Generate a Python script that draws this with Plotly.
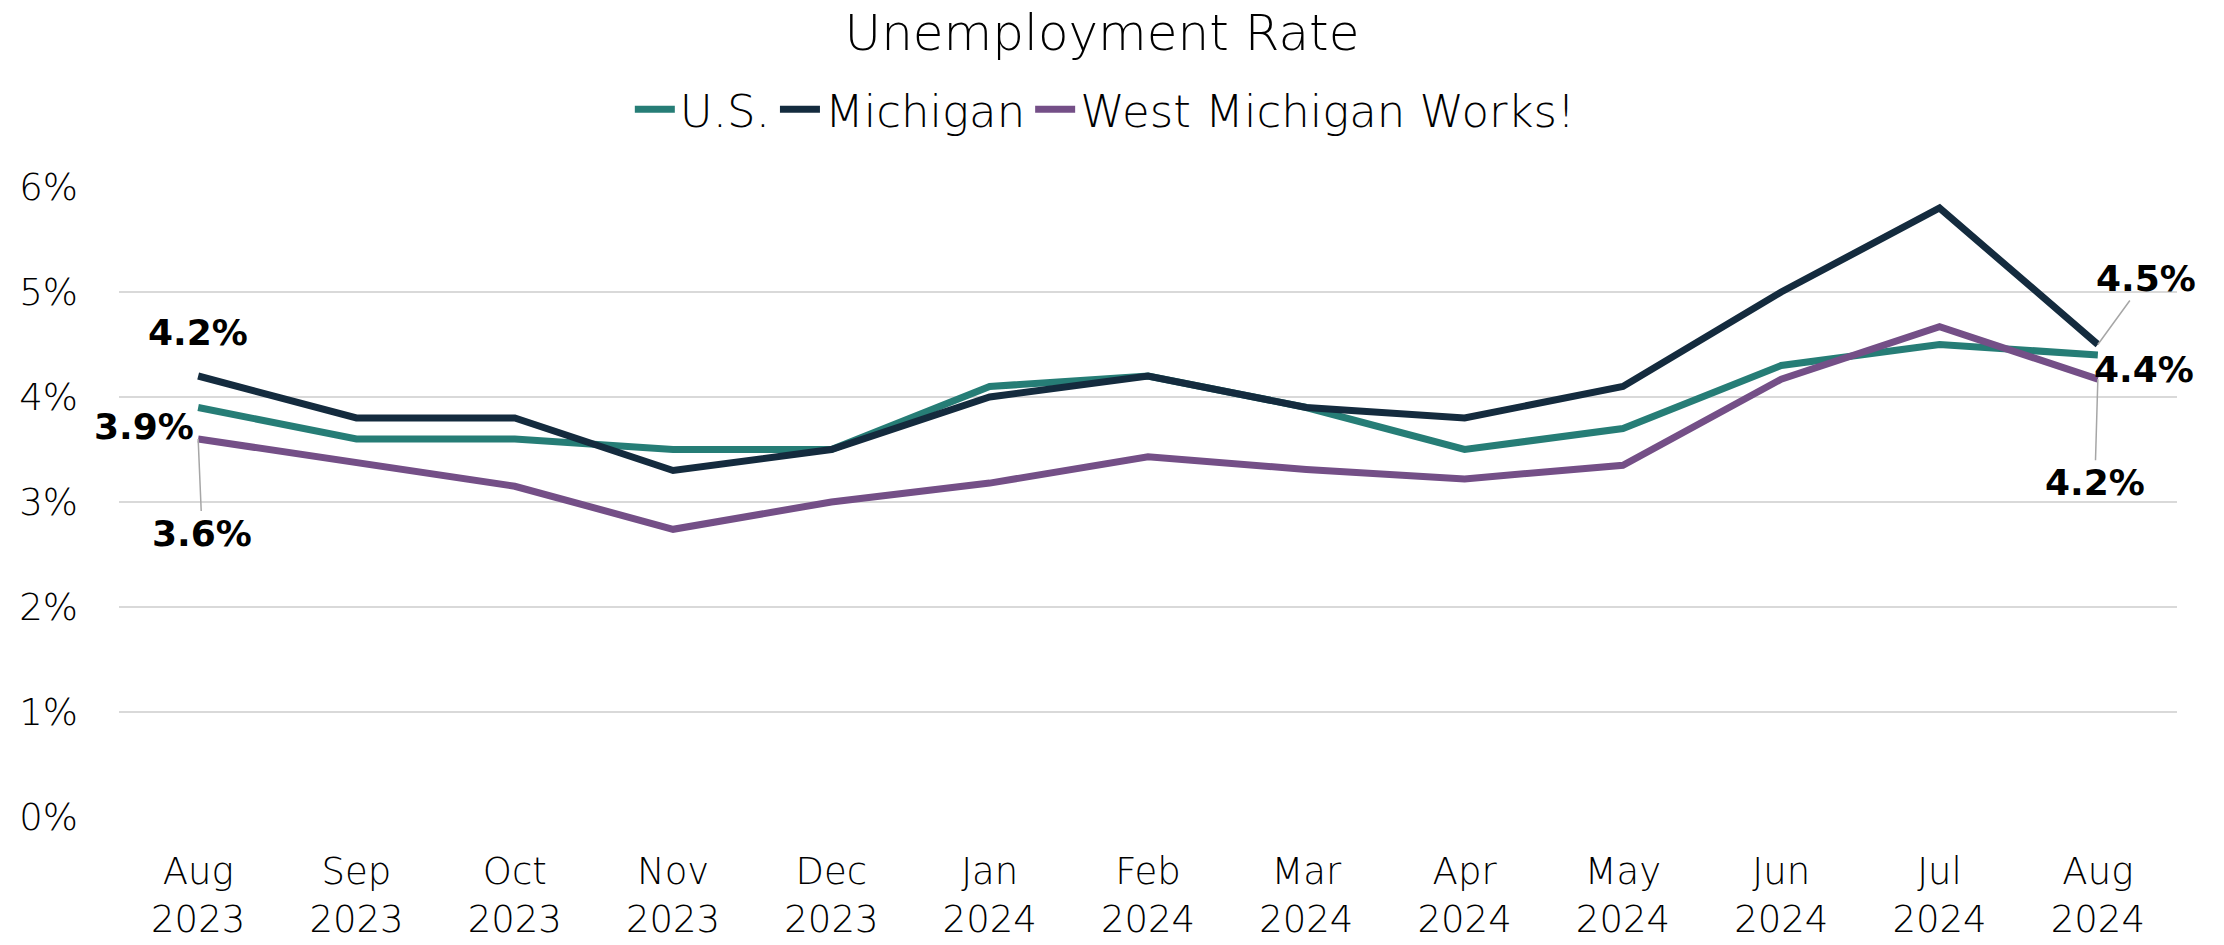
import plotly.graph_objects as go

months = ["Aug<br>2023", "Sep<br>2023", "Oct<br>2023", "Nov<br>2023", "Dec<br>2023",
          "Jan<br>2024", "Feb<br>2024", "Mar<br>2024", "Apr<br>2024", "May<br>2024",
          "Jun<br>2024", "Jul<br>2024", "Aug<br>2024"]
us = [3.9, 3.6, 3.6, 3.5, 3.5, 4.1, 4.2, 3.9, 3.5, 3.7, 4.3, 4.5, 4.4]
michigan = [4.2, 3.8, 3.8, 3.3, 3.5, 4.0, 4.2, 3.9, 3.8, 4.1, 5.0, 5.8, 4.5]
wmw = [3.6, 3.37, 3.15, 2.74, 3.0, 3.18, 3.43, 3.31, 3.22, 3.35, 4.17, 4.67, 4.17]
yticks = [0, 1, 2, 3, 4, 5, 6]
ytick_labels = ["0%", "1%", "2%", "3%", "4%", "5%", "6%"]

C_US = "#267D76"
C_MI = "#142B3E"
C_WMW = "#744F87"
FONT = "DejaVu Sans"

fig = go.Figure()
for name, vals, col in [("U.S.", us, C_US), ("Michigan", michigan, C_MI),
                        ("West Michigan Works!", wmw, C_WMW)]:
    fig.add_trace(go.Scatter(x=months, y=vals, mode="lines", name=name,
                             line=dict(color=col, width=7)))

lab_font = dict(family=FONT, size=36, color="black", weight=700)
anns = [
    # (x, y, arrow, ax, ay, xshift, yshift)
    (months[0], michigan[0], False, 0, 0, 0, 44),
    (months[0], us[0], False, 0, 0, -54, -19),
    (months[0], wmw[0], True, 4, 94, 0, 0),
    (months[-1], michigan[-1], True, 48, -66, 0, 0),
    (months[-1], us[-1], False, 0, 0, 46, -14),
    (months[-1], wmw[-1], True, -3, 103, 0, 0),
]
for x, y, arrow, ax, ay, xs, ys in anns:
    fig.add_annotation(x=x, y=y, text=f"{y:.1f}%", showarrow=arrow,
                       ax=ax, ay=ay, arrowhead=0, arrowwidth=1.5, arrowcolor="#A6A6A6",
                       xshift=xs, yshift=ys, font=lab_font)

fig.update_layout(
    width=2224, height=945,
    paper_bgcolor="white", plot_bgcolor="white",
    margin=dict(l=119, r=47, t=187, b=128, autoexpand=False),
    font=dict(family=FONT, size=37, color="black", weight=300),
    title=dict(text="Unemployment Rate", x=0.4955, xref="container", xanchor="center",
               y=0.966, yref="container", yanchor="middle",
               font=dict(family=FONT, size=50, color="black", weight=300)),
    legend=dict(orientation="h", x=0.497, xref="container", xanchor="center",
                y=0.884, yref="container", yanchor="middle",
                font=dict(family=FONT, size=45, color="black", weight=300),
                itemwidth=40),
    showlegend=True,
)
fig.update_xaxes(range=[-0.5, 12.5], showgrid=False, showline=False, zeroline=False, ticks="",
                 automargin=False, ticklabelstandoff=29, tickfont=dict(size=37))
fig.update_yaxes(range=[0, 6], tickvals=yticks, ticktext=ytick_labels, showgrid=True,
                 gridcolor="#D9D9D9", gridwidth=1.5, zeroline=False, showline=False,
                 automargin=False, ticks="", ticklabelstandoff=40, tickfont=dict(size=37))

fig.write_html("out.html", config={"displayModeBar": False},
               post_script="document.body.style.margin='0px';")
